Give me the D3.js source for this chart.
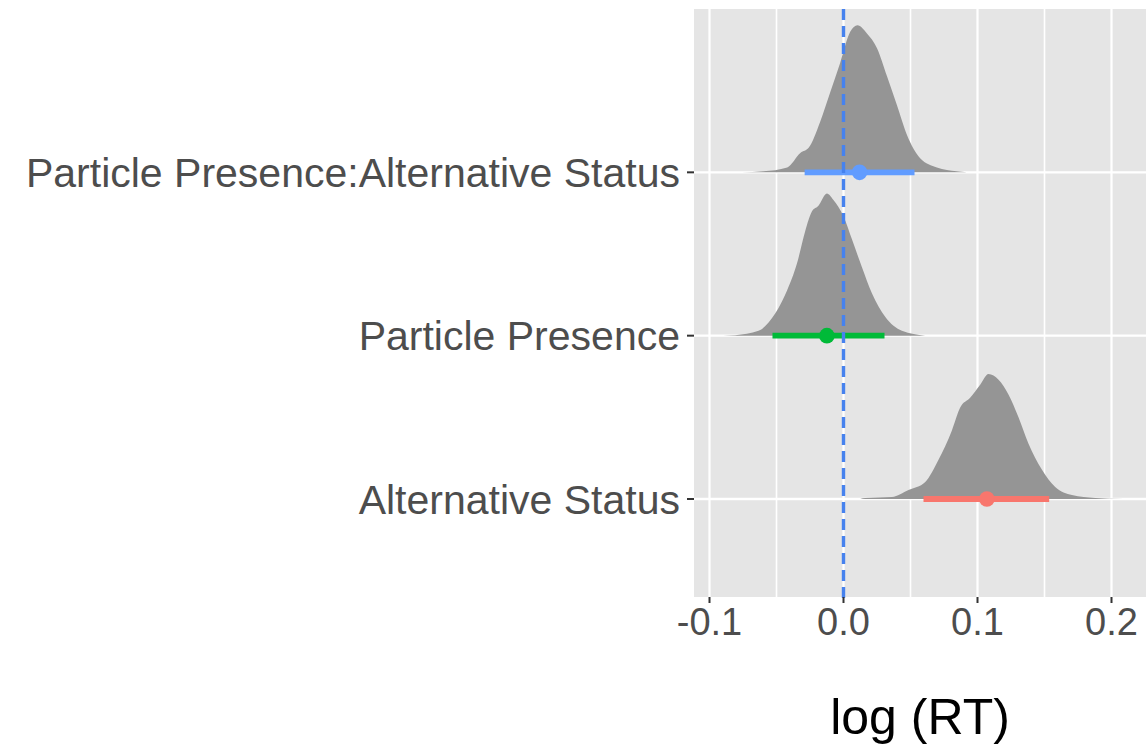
<!DOCTYPE html>
<html>
<head>
<meta charset="utf-8">
<script src="https://cdn.jsdelivr.net/npm/d3@7"></script>
<style>
  body { margin: 0; background: #fff; }
  svg { display: block; font-family: "Liberation Sans", Arial, sans-serif; }
</style>
</head>
<body>
<svg id="chart" width="1147" height="744"></svg>
<script>

// Terms, bottom to top.
var terms = ['Alternative Status', 'Particle Presence', 'Particle Presence:Alternative Status'];

// Posterior summaries.
var estimates = [0.107, -0.0124, 0.012];
var lower =     [0.0597, -0.053, -0.029];
var upper =     [0.1535, 0.0306, 0.053];

// Density outlines (x value, height in row units).
var densAltX = [0.0125, 0.0162, 0.0361, 0.0485, 0.061, 0.0709, 0.0809, 0.0871, 0.0945, 0.102, 0.1082, 0.1157, 0.1231, 0.1306, 0.138, 0.148, 0.158, 0.1705, 0.188, 0.209];
var densAltH = [0, 0.006, 0.012, 0.055, 0.104, 0.24, 0.42, 0.56, 0.62, 0.70, 0.765, 0.73, 0.64, 0.50, 0.34, 0.18, 0.073, 0.024, 0.006, 0];

var densPartX = [-0.0898, -0.0808, -0.0634, -0.051, -0.0422, -0.0348, -0.0286, -0.0236, -0.0187, -0.0124, -0.0075, 0, 0.0063, 0.0137, 0.0212, 0.0311, 0.0436, 0.061];
var densPartH = [0, 0.003, 0.03, 0.135, 0.275, 0.44, 0.64, 0.76, 0.795, 0.87, 0.83, 0.73, 0.59, 0.42, 0.26, 0.116, 0.03, 0];

var densInterX = [-0.0758, -0.060, -0.042, -0.032, -0.026, -0.0174, -0.0099, -0.0025, 0.005, 0.0104, 0.0175, 0.025, 0.0324, 0.0399, 0.0473, 0.0572, 0.0697, 0.0846, 0.092];
var densInterH = [0, 0.006, 0.03, 0.12, 0.15, 0.31, 0.49, 0.67, 0.86, 0.90, 0.85, 0.76, 0.59, 0.41, 0.23, 0.086, 0.03, 0.006, 0];

// Axis ticks.
var xMajor = [-0.1, 0, 0.1, 0.2];
var xMinor = [-0.05, 0.05, 0.15];
var xLabels = ['-0.1', '0.0', '0.1', '0.2'];

// Series colours (ggplot hue).
var colors = ['#F8766D', '#00BA38', '#619CFF'];

// Panel box.
var panel = { left: 694, right: 1146, top: 9, bottom: 597 };

var svg = d3.select('#chart');

// Scales.
var x = d3.scaleLinear().domain([-0.1, 0.2]).range([709.5, 1111.5]);
var y = d3.scaleLinear().domain([-0.6, 3.0]).range([panel.bottom, panel.top]);

// Background.
svg.append('rect')
  .attr('x', panel.left).attr('y', panel.top)
  .attr('width', panel.right - panel.left)
  .attr('height', panel.bottom - panel.top)
  .attr('fill', '#E5E5E5');

// Grid lines.
var grid = svg.append('g');
grid.selectAll('.minor').data(xMinor).enter().append('line')
  .attr('x1', x).attr('x2', x)
  .attr('y1', panel.top).attr('y2', panel.bottom)
  .attr('stroke', '#fff').attr('stroke-width', 1.6);
grid.selectAll('.major').data(xMajor).enter().append('line')
  .attr('x1', x).attr('x2', x)
  .attr('y1', panel.top).attr('y2', panel.bottom)
  .attr('stroke', '#fff').attr('stroke-width', 2.2);
grid.selectAll('.row').data(terms).enter().append('line')
  .attr('x1', panel.left).attr('x2', panel.right)
  .attr('y1', function(d, i) { return y(i); })
  .attr('y2', function(d, i) { return y(i); })
  .attr('stroke', '#fff').attr('stroke-width', 2.4);

// Ridges.
var ridges = [
  { xs: densAltX, hs: densAltH },
  { xs: densPartX, hs: densPartH },
  { xs: densInterX, hs: densInterH }
];

ridges.forEach(function(r, i) {
  var pts = r.xs.map(function(v, j) { return [v, r.hs[j]]; });
  var area = d3.area()
    .curve(d3.curveMonotoneX)
    .x(function(p) { return x(p[0]); })
    .y0(y(i))
    .y1(function(p) { return y(i + p[1]); });
  svg.append('path')
    .datum(pts)
    .attr('d', area)
    .attr('fill', '#959595');
});

// Intervals and points.
var marks = svg.append('g');
marks.selectAll('line').data(terms).enter().append('line')
  .attr('x1', function(d, i) { return x(lower[i]); })
  .attr('x2', function(d, i) { return x(upper[i]); })
  .attr('y1', function(d, i) { return y(i); })
  .attr('y2', function(d, i) { return y(i); })
  .attr('stroke', function(d, i) { return colors[i]; })
  .attr('stroke-width', 5.8);
marks.selectAll('circle').data(terms).enter().append('circle')
  .attr('cx', function(d, i) { return x(estimates[i]); })
  .attr('cy', function(d, i) { return y(i); })
  .attr('r', 7.8)
  .attr('fill', function(d, i) { return colors[i]; });

// Zero reference line.
svg.append('line')
  .attr('x1', x(0)).attr('x2', x(0))
  .attr('y1', panel.top).attr('y2', panel.bottom + 6)
  .attr('stroke', '#4682EE')
  .attr('stroke-width', 3.4)
  .attr('stroke-dasharray', '11,6');

// X axis.
var xAxis = svg.append('g');
xAxis.selectAll('line').data(xMajor).enter().append('line')
  .attr('x1', x).attr('x2', x)
  .attr('y1', panel.bottom).attr('y2', panel.bottom + 6)
  .attr('stroke', '#333').attr('stroke-width', 2);
xAxis.selectAll('text').data(xMajor).enter().append('text')
  .attr('x', x)
  .attr('y', 635)
  .attr('text-anchor', 'middle')
  .attr('font-size', 38)
  .attr('fill', '#4D4D4D')
  .text(function(d, i) { return xLabels[i]; });

// Y axis.
var yAxis = svg.append('g');
yAxis.selectAll('line').data(terms).enter().append('line')
  .attr('x1', panel.left - 7).attr('x2', panel.left)
  .attr('y1', function(d, i) { return y(i); })
  .attr('y2', function(d, i) { return y(i); })
  .attr('stroke', '#333').attr('stroke-width', 2);
yAxis.selectAll('text').data(terms).enter().append('text')
  .attr('x', panel.left - 14)
  .attr('y', function(d, i) { return y(i); })
  .attr('dy', '0.36em')
  .attr('text-anchor', 'end')
  .attr('font-size', 41)
  .attr('fill', '#4D4D4D')
  .text(function(d) { return d; });

// Axis title.
svg.append('text')
  .attr('x', (panel.left + panel.right) / 2)
  .attr('y', 734)
  .attr('text-anchor', 'middle')
  .attr('font-size', 50)
  .attr('fill', '#000')
  .text('log (RT)');

</script>
</body>
</html>
